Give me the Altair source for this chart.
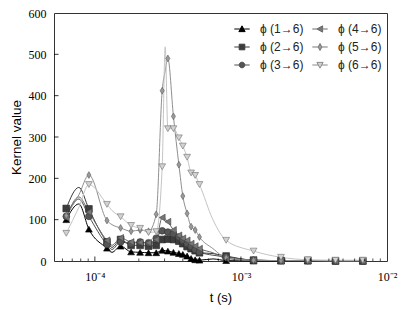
import altair as alt
import pandas as pd

# ---- data ----
t_vals = [6.37e-5, 7.77e-5, 9.1e-5, 1.21e-4, 1.31e-4, 1.50e-4, 1.77e-4, 2.04e-4, 2.33e-4,
          2.63e-4, 2.89e-4, 3.03e-4, 3.16e-4, 3.45e-4, 3.76e-4, 4.00e-4, 4.28e-4, 4.56e-4,
          4.86e-4, 5.20e-4, 6.43e-4, 7.92e-4, 1.22e-3, 1.88e-3, 2.87e-3, 4.44e-3, 6.83e-3]
# points drawn only as line (no marker)
line_only = [1, 4, 11, 20]

series_names = ["ϕ (1→6)", "ϕ (2→6)", "ϕ (3→6)", "ϕ (4→6)", "ϕ (5→6)", "ϕ (6→6)"]
s1 = [100, 138, 77, 31, 21, 36, 22, 21, 20, 20, 26, 25, 24, 21, 18, 16, 12, 6, 3, 2, 5, 1, 0, 0, 0, 0, 0]
s2 = [127, 178, 126, 46, 33, 52, 38, 38, 36, 38, 52, 53, 53, 52, 48, 42, 35, 30, 25, 20, 18, 12, 2, 1, 1, 0, 0]
s3 = [108, 150, 108, 40, 28, 46, 42, 46, 44, 55, 73, 72, 70, 66, 58, 50, 42, 35, 28, 22, 14, 10, 2, 1, 1, 0, 0]
s4 = [105, 155, 118, 50, 38, 56, 46, 45, 44, 52, 105, 102, 95, 75, 62, 55, 50, 42, 36, 30, 20, 6, 2, 1, 1, 0, 0]
s5 = [110, 160, 208, 98, 88, 80, 72, 75, 72, 113, 412, 460, 490, 350, 233, 157, 115, 83, 75, 58, 30, 8, 2, 1, 1, 1, 1]
s6 = [67, 130, 185, 137, 122, 107, 86, 79, 69, 71, 228, 518, 320, 320, 298, 278, 251, 213, 207, 185, 100, 50, 24, 9, 3, 2, 2]
series_vals = [s1, s2, s3, s4, s5, s6]

x_major = [1e-4, 1e-3, 1e-2]
x_major_labels = ["10⁻⁴", "10⁻³", "10⁻²"]
x_minor = [6e-5, 7e-5, 8e-5, 9e-5, 2e-4, 3e-4, 4e-4, 5e-4, 6e-4, 7e-4, 8e-4, 9e-4,
           2e-3, 3e-3, 4e-3, 5e-3, 6e-3, 7e-3, 8e-3, 9e-3]
y_ticks = [0, 100, 200, 300, 400, 500, 600]

# ---- styles ----
line_colors = ["#000000", "#3a3a3a", "#4f4f4f", "#6a6a6a", "#8f8f8f", "#c4c4c4"]
fill_colors = ["#000000", "#3c3c3c", "#555555", "#777777", "#9a9a9a", "#d2d2d2"]
edge_colors = ["#000000", "#262626", "#333333", "#444444", "#5a5a5a", "#6e6e6e"]
shapes = ["triangle-up", "square", "circle", "triangle-left",
          "M0,-1L0.6,0L0,1L-0.6,0Z", "triangle-down"]
legend_shapes = [
    "M-2.2,0H-0.6M0.6,0H2.2M0,-0.9L0.9,0.75L-0.9,0.75Z",
    "M-2.2,0H-0.8M0.8,0H2.2M-0.8,-0.8H0.8V0.8H-0.8Z",
    "M-2.2,0H-0.8M0.8,0H2.2M0.8,0A0.8,0.8,0,1,1,-0.8,0A0.8,0.8,0,1,1,0.8,0Z",
    "M-2.2,0H-0.9M0.9,0H2.2M-0.9,0L0.75,-0.9L0.75,0.9Z",
    "M-2.2,0H-0.55M0.55,0H2.2M0,-1L0.55,0L0,1L-0.55,0Z",
    "M-2.2,0H-0.5M0.5,0H2.2M0,0.9L0.9,-0.75L-0.9,-0.75Z",
]
legend_strokes = ["#000000", "#3a3a3a", "#4f4f4f", "#6a6a6a", "#7a7a7a", "#8a8a8a"]

rows = []
for si, (name, vals) in enumerate(zip(series_names, series_vals)):
    for ti, (t, v) in enumerate(zip(t_vals, vals)):
        rows.append({"series": name, "t": t, "value": v, "marker": ti not in line_only, "si": si})
df = pd.DataFrame(rows)

W, H = 333, 248
xscale = alt.Scale(type="log", domain=[5.25e-5, 1e-2], nice=False)
yscale = alt.Scale(domain=[0, 600], nice=False)

label_expr = " : ".join(
    f"datum.value == {v} ? '{l}'" for v, l in zip(x_major, x_major_labels)) + " : ''"

x_enc = alt.X("t:Q", scale=xscale,
              axis=alt.Axis(values=x_major, labelExpr=label_expr, ticks=False, domain=False,
                            grid=False, labelFont="Liberation Serif", labelFontSize=12,
                            labelColor="#000", labelPadding=10, labelFlush=False,
                            title="t (s)", titleFont="Liberation Sans", titleFontSize=13,
                            titleFontWeight="normal", titleColor="#000",
                            titleX=W / 2, titleY=36, titleBaseline="middle"))
y_enc = alt.Y("value:Q", scale=yscale,
              axis=alt.Axis(values=y_ticks, ticks=False, domain=False, grid=False,
                            labelFont="Liberation Serif", labelFontSize=12, labelColor="#000",
                            labelPadding=8, labelFlush=False,
                            title="Kernel value", titleFont="Liberation Sans", titleFontSize=13.5,
                            titleFontWeight="normal", titleColor="#000",
                            titleX=-38, titleY=H / 2, titleAngle=-90, titleBaseline="middle",
                            titleAlign="center"))

lines = alt.Chart(df).mark_line(interpolate="monotone", strokeWidth=1).encode(
    x=x_enc, y=y_enc,
    color=alt.Color("series:N", scale=alt.Scale(domain=series_names, range=line_colors), legend=None),
    detail="series:N",
)

points = alt.Chart(df).transform_filter("datum.marker").mark_point(
    filled=True, size=46, strokeWidth=0.6, opacity=1).encode(
    x=alt.X("t:Q", scale=xscale),
    y=alt.Y("value:Q", scale=yscale),
    shape=alt.Shape("series:N", scale=alt.Scale(domain=series_names, range=shapes), legend=None),
    fill=alt.Fill("series:N", scale=alt.Scale(domain=series_names, range=fill_colors), legend=None),
    stroke=alt.Stroke("series:N", scale=alt.Scale(domain=series_names, range=edge_colors), legend=None),
    order=alt.Order("si:Q"),
)

# legend: Vega fills the 2-column grid column by column (col 1: 1,2,3 ; col 2: 4,5,6)
legend = alt.Legend(title=None, orient="none", legendX=182, legendY=10, columns=2,
                    columnPadding=6, rowPadding=6, symbolSize=49, symbolStrokeWidth=1,
                    labelFont="Liberation Sans", labelFontSize=12, labelColor="#222",
                    labelOffset=12, padding=0)
legend_layer = alt.Chart(df).transform_filter("false").mark_point(
    filled=True, size=49, strokeWidth=1, opacity=1).encode(
    x=alt.X("t:Q", scale=xscale),
    y=alt.Y("value:Q", scale=yscale),
    shape=alt.Shape("series:N", scale=alt.Scale(domain=series_names, range=legend_shapes), legend=legend),
    fill=alt.Fill("series:N", scale=alt.Scale(domain=series_names, range=fill_colors), legend=legend),
    stroke=alt.Stroke("series:N", scale=alt.Scale(domain=series_names, range=legend_strokes), legend=legend),
)

tick_df_major = pd.DataFrame({"t": x_major[:-1]})
tick_df_minor = pd.DataFrame({"t": x_minor})
ytick_df = pd.DataFrame({"value": y_ticks[1:-1]})

xt_major = alt.Chart(tick_df_major).mark_rule(color="#000", strokeWidth=0.8).encode(
    x=alt.X("t:Q", scale=xscale), y=alt.value(H), y2=alt.value(H - 4.5))
xt_minor = alt.Chart(tick_df_minor).mark_rule(color="#000", strokeWidth=0.7).encode(
    x=alt.X("t:Q", scale=xscale), y=alt.value(H), y2=alt.value(H - 2.5))
yt = alt.Chart(ytick_df).mark_rule(color="#000", strokeWidth=0.8).encode(
    y=alt.Y("value:Q", scale=yscale), x=alt.value(0), x2=alt.value(4.5))

chart = alt.layer(lines, points, legend_layer, xt_major, xt_minor, yt).resolve_scale(
    shape="independent", fill="independent", stroke="independent", color="independent"
).properties(
    width=W, height=H,
    autosize=alt.AutoSizeParams(type="none"),
    padding={"left": 46, "top": 5, "right": 12, "bottom": 50},
).configure_view(stroke="#333", strokeWidth=1)

chart.save("out.html", embed_options={"renderer": "svg", "actions": False})
